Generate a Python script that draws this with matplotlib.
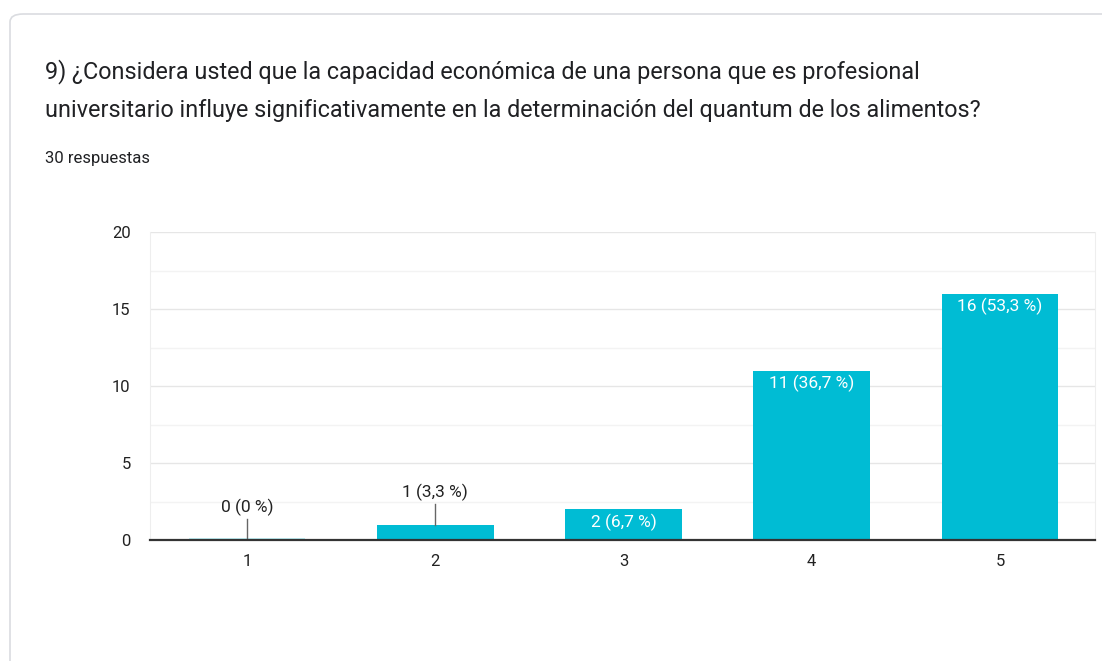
import matplotlib.pyplot as plt
from matplotlib.patches import FancyBboxPatch

# datos de la encuesta
categorias = ["1", "2", "3", "4", "5"]
respuestas = [0, 1, 2, 11, 16]
porcentajes = ["0 %", "3,3 %", "6,7 %", "36,7 %", "53,3 %"]
total = 30

plt.rcParams['font.family'] = ['Roboto', 'DejaVu Sans']

fig = plt.figure(figsize=(11.02, 6.61), dpi=100)

# tarjeta de fondo
card = FancyBboxPatch((10 / 1102, -0.05), 1.2, (661 - 14) / 661 + 0.05,
                      boxstyle="round,pad=0,rounding_size=0.012",
                      transform=fig.transFigure, facecolor="white",
                      edgecolor="#dadce0", linewidth=1.2, zorder=-10)
fig.patches.append(card)

fig.text(45 / 1102, 1 - 72 / 661,
         "9) ¿Considera usted que la capacidad económica de una persona que es profesional",
         fontsize=16.8, color="#202124", va="center")
fig.text(45 / 1102, 1 - 111 / 661,
         "universitario influye significativamente en la determinación del quantum de los alimentos?",
         fontsize=16.8, color="#202124", va="center")
fig.text(45 / 1102, 1 - 158 / 661, f"{total} respuestas",
         fontsize=12, color="#202124", va="center")

ax = fig.add_axes([150 / 1102, (661 - 540) / 661, (1095 - 150) / 1102, (540 - 232) / 661])
ax.set_facecolor("none")
x = list(range(1, len(categorias) + 1))
color = "#00bcd4"
ax.bar(x, respuestas, width=0.62, color=color, zorder=3)

ax.set_xlim(0.485, 5.505)
ax.set_ylim(0, 20)
ax.set_yticks([0, 5, 10, 15, 20])
ax.set_yticks([2.5, 7.5, 12.5, 17.5], minor=True)
ax.set_xticks(x)
ax.set_xticklabels(categorias)
ax.grid(axis="y", which="major", color="#e6e6e6", linewidth=1, zorder=0)
ax.grid(axis="y", which="minor", color="#f3f3f3", linewidth=1, zorder=0)
ax.tick_params(axis="both", which="both", length=0, labelsize=12, labelcolor="#222222")
ax.tick_params(axis="x", pad=10)
ax.tick_params(axis="y", pad=14)

ax.spines["top"].set_visible(False)
ax.spines["left"].set_color("#eeeeee")
ax.spines["right"].set_color("#eeeeee")
ax.spines["bottom"].set_color("#333333")
ax.spines["bottom"].set_linewidth(1.6)
ax.spines["bottom"].set_zorder(4)

# barra en cero: linea fina
ax.hlines(0.06, x[0] - 0.31, x[0] + 0.31, color="#b2ebf2", linewidth=1.2, zorder=3)

for xi, v, p in zip(x, respuestas, porcentajes):
    etiqueta = f"{v} ({p})"
    if v >= 2:
        ax.text(xi, v - 0.3, etiqueta, ha="center", va="top", color="white",
                fontsize=12.5, zorder=5)
    else:
        top = v + 1.35
        ax.plot([xi, xi], [v, top], color="#666666", linewidth=1, zorder=4)
        ax.text(xi, top + 0.2, etiqueta, ha="center", va="bottom", color="#222222",
                fontsize=12.5, zorder=5)

fig.savefig("out.png", dpi=100)
